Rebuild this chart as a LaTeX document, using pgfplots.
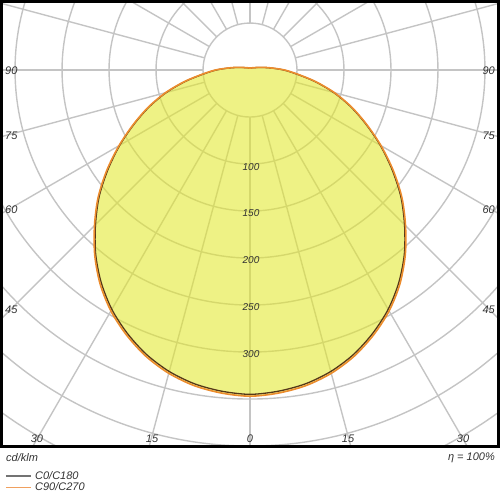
\documentclass[border=0pt]{standalone}
\usepackage{pgfplots}
\pgfplotsset{compat=1.18}
\usepackage{pgfplotstable}
\usepackage{fontspec}
\setmainfont{Liberation Sans}

\definecolor{gridgray}{RGB}{196,196,196}
\definecolor{fillyel}{RGB}{226,232,45}
\definecolor{cnull}{RGB}{85,55,25}
\definecolor{cninety}{RGB}{236,140,45}
\definecolor{lbl}{RGB}{50,50,50}
\definecolor{legray}{RGB}{115,115,115}
\definecolor{leorange}{RGB}{240,160,95}

% angle from nadir, C90/C270, C0/C180 (cd/klm)
\pgfplotstableread{
a    I90  I0
-180 2.1  2.0
-165 2.2  2.1
-150 2.6  2.5
-135 3.4  3.3
-120 5    4.9
-110 8    7.8
-105 11   10.7
-100 16   15.5
-95  24   23.5
-90  37   36
-85  51   50
-80  71   70
-75  93   92
-70  115  114
-65  137  136
-60  161  160
-55  186  184.5
-50  211  209.5
-45  234  232.5
-40  257  255.5
-35  278  276
-30  296  294
-25  311  309
-20  324  322
-15  334  332
-10  341  339
-5   345  343
0    347  345
5    345  343
10   341  339
15   334  332
20   324  322
25   311  309
30   296  294
35   278  276
40   257  255.5
45   234  232.5
50   211  209.5
55   186  184.5
60   161  160
65   137  136
70   115  114
75   93   92
80   71   70
85   51   50
90   37   36
95   24   23.5
100  16   15.5
105  11   10.7
110  8    7.8
120  5    4.9
135  3.4  3.3
150  2.6  2.5
165  2.2  2.1
180  2.1  2.0
}\ldc

\begin{document}
\begin{tikzpicture}
\path[use as bounding box] (0,0) rectangle (500pt,-500pt);
\begin{axis}[
    at={(1.7pt,-1.7pt)}, anchor=north west,
    scale only axis,
    width=496.6pt, height=444.8pt,
    xmin=-264.2, xmax=264.2,
    ymin=-400.5, ymax=72.7,
    xtick=\empty, ytick=\empty,
    axis on top,
    axis line style={line width=3.3pt, black},
    legend style={at={(0.0066,-0.052)}, anchor=north west, draw=none, fill=none,
        inner sep=0pt, font=\fontsize{11}{12}\selectfont\itshape, text=lbl,
        nodes={inner sep=1.5pt}, row sep=-1pt},
    legend cell align=left,
    legend image code/.code={\draw[#1] (0pt,0pt) -- (25pt,0pt);},
  ]
  \pgfplotsinvokeforeach{50,100,...,450}{
    \draw[gridgray, line width=1.4pt] (axis cs:0,0) circle[radius=#1];
  }
  \pgfplotsinvokeforeach{0,15,...,345}{
    \draw[gridgray, line width=1.4pt] (axis cs:{50*sin(#1)},{-50*cos(#1)}) -- (axis cs:{700*sin(#1)},{-700*cos(#1)});
  }
  \addplot[forget plot, draw=none, fill=fillyel, fill opacity=0.58, smooth]
    table[x expr={\thisrow{I90}*sin(\thisrow{a})}, y expr={-\thisrow{I90}*cos(\thisrow{a})}] {\ldc};
  \addplot[forget plot, cnull, line width=1.3pt, smooth]
    table[x expr={\thisrow{I0}*sin(\thisrow{a})}, y expr={-\thisrow{I0}*cos(\thisrow{a})}] {\ldc};
  \addplot[forget plot, cninety, line width=1.6pt, smooth]
    table[x expr={\thisrow{I90}*sin(\thisrow{a})}, y expr={-\thisrow{I90}*cos(\thisrow{a})}] {\ldc};
  \addlegendimage{legray, line width=1.5pt}
  \addlegendentry{\hspace{2pt}C0/C180}
  \addlegendimage{leorange, line width=1.5pt}
  \addlegendentry{\hspace{2pt}C90/C270}
\end{axis}

\begin{scope}[font=\fontsize{11}{12}\selectfont\itshape, text=lbl, inner sep=0pt]
  \node[anchor=west] at (6pt,-458pt) {cd/klm};
  \node[anchor=east] at (495pt,-458pt) {η = 100\%};
  \node[anchor=west] at (5pt,-71pt) {90};
  \node[anchor=west] at (5pt,-136pt) {75};
  \node[anchor=west] at (5pt,-210pt) {60};
  \node[anchor=west] at (5pt,-310pt) {45};
  \node[anchor=east] at (495pt,-71pt) {90};
  \node[anchor=east] at (495pt,-136pt) {75};
  \node[anchor=east] at (495pt,-210pt) {60};
  \node[anchor=east] at (495pt,-310pt) {45};
  \node at (37pt,-439pt) {30};
  \node at (152pt,-439pt) {15};
  \node at (250pt,-439pt) {0};
  \node at (348pt,-439pt) {15};
  \node at (463pt,-439pt) {30};
\end{scope}
\begin{scope}[font=\fontsize{10}{11}\selectfont\itshape, text=lbl, inner sep=0pt]
  \node at (251pt,-167pt) {100};
  \node at (251pt,-213pt) {150};
  \node at (251pt,-260pt) {200};
  \node at (251pt,-307pt) {250};
  \node at (251pt,-354pt) {300};
\end{scope}
\end{tikzpicture}
\end{document}
